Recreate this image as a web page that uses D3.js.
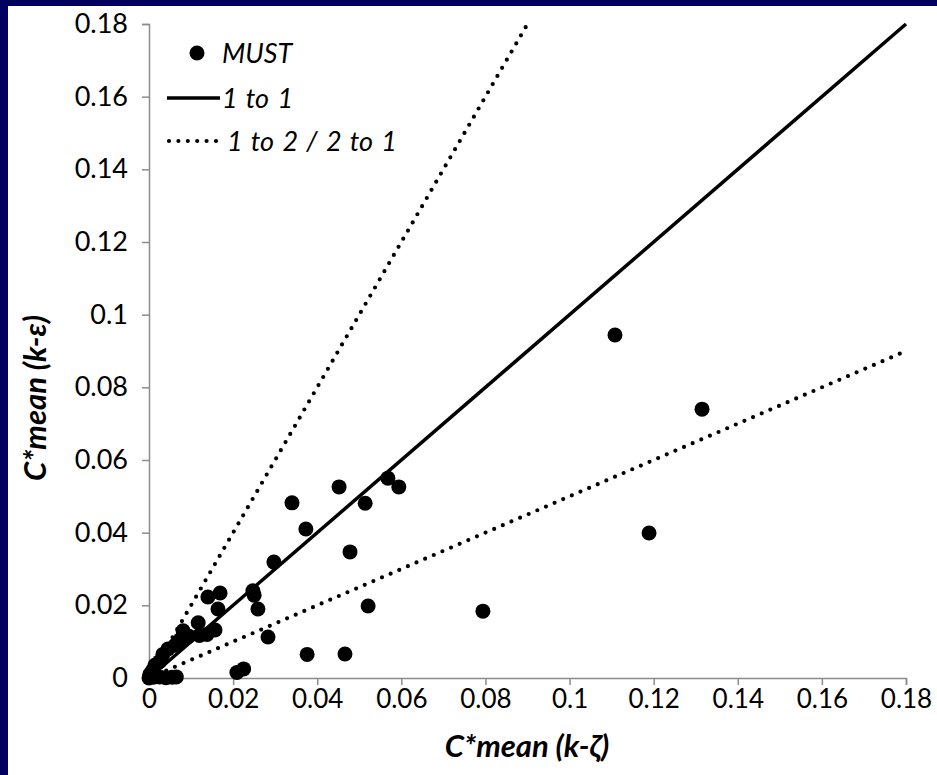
<!DOCTYPE html>
<html>
<head>
<meta charset="utf-8">
<script src="https://cdn.jsdelivr.net/npm/d3@7"></script>
<style>
  body { margin: 0; background: #fff; overflow: hidden; }
  svg { display: block; }
  text { font-family: Lato, "Open Sans", sans-serif; fill: #000; }
</style>
</head>
<body>
<div class="chart"></div>
<script>
// MUST points: C*mean k-zeta (x) vs C*mean k-epsilon (y)
var mustX = [0.1108, 0.1315, 0.1189, 0.0794,
    0.0452, 0.0568, 0.0594, 0.0514, 0.0373, 0.0478, 0.0521, 0.0376, 0.0466,
    0.0340, 0.0297, 0.0247, 0.0250, 0.0259, 0.0283,
    0.0169, 0.0140, 0.0164, 0.0117, 0.0081, 0.0157, 0.0138, 0.0120, 0.0095, 0.0074,
    0.0062, 0.0045, 0.0033, 0.0025, 0.0014, 0.0008, 0.0002, 0.0000,
    0.0010, 0.0025, 0.0040, 0.0055, 0.0065, 0.0209, 0.0225];
var mustY = [0.0944, 0.0740, 0.0399, 0.0184,
    0.0526, 0.0550, 0.0526, 0.0481, 0.0410, 0.0347, 0.0198, 0.0065, 0.0066,
    0.0482, 0.0319, 0.0240, 0.0228, 0.0190, 0.0113,
    0.0234, 0.0223, 0.0190, 0.0152, 0.0130, 0.0132, 0.0120, 0.0117, 0.0115, 0.0105,
    0.0090, 0.0080, 0.0065, 0.0045, 0.0035, 0.0020, 0.0010, 0.0000,
    0.0002, 0.0003, 0.0001, 0.0002, 0.0003, 0.0015, 0.0025];

var xTicks = [0, 0.02, 0.04, 0.06, 0.08, 0.1, 0.12, 0.14, 0.16, 0.18];
var yTicks = [0, 0.02, 0.04, 0.06, 0.08, 0.1, 0.12, 0.14, 0.16, 0.18];

// reference lines: 1 to 1, 2 to 1 and 1 to 2
var oneToOne = [[0, 0], [0.18, 0.18]];
var twoToOne = [[0, 0], [0.09, 0.18]];
var oneToTwo = [[0, 0], [0.18, 0.09]];

var legendNames = ["MUST", "1 to 1", "1 to 2 / 2 to 1"];

var W = 937, H = 775;
var svg = d3.select(".chart").append("svg")
    .attr("width", W)
    .attr("height", H);

// slide background: navy frame on top and left
svg.append("rect")
    .attr("width", W).attr("height", H)
    .style("fill", "#00005e");
svg.append("rect")
    .attr("x", 8).attr("y", 6)
    .attr("width", W).attr("height", H)
    .style("fill", "#fff");

var x = d3.scaleLinear().domain([0, 0.18]).range([149, 906]);
var y = d3.scaleLinear().domain([0, 0.18]).range([678, 24]);

function fmt(d) { return d === 0 ? "0" : String(+d.toFixed(2)); }

var gx = svg.append("g")
    .attr("transform", "translate(0," + y(0) + ")")
    .call(d3.axisBottom(x).tickValues(xTicks).tickFormat(fmt).tickSize(7).tickPadding(5));
var gy = svg.append("g")
    .attr("transform", "translate(" + x(0) + ",0)")
    .call(d3.axisLeft(y).tickValues(yTicks).tickFormat(fmt).tickSize(7).tickPadding(14));

[gx, gy].forEach(function (g) {
    g.select(".domain").style("stroke", "#8c8c8c").style("stroke-width", 1.5);
    g.selectAll(".tick line").style("stroke", "#8c8c8c").style("stroke-width", 1.5);
    g.selectAll(".tick text")
        .style("font-family", "Lato, sans-serif")
        .style("font-size", "26px")
        .style("fill", "#000");
});
gy.selectAll(".tick text").style("font-size", "27px");

var line = d3.line()
    .x(function (d) { return x(d[0]); })
    .y(function (d) { return y(d[1]); });

svg.append("path")
    .attr("d", line(oneToOne))
    .style("fill", "none")
    .style("stroke", "#000")
    .style("stroke-width", 3.5);

[twoToOne, oneToTwo].forEach(function (l) {
    svg.append("path")
        .attr("d", line(l))
        .style("fill", "none")
        .style("stroke", "#000")
        .style("stroke-width", 4.2)
        .style("stroke-linecap", "round")
        .style("stroke-dasharray", "0 9.4");
});

svg.selectAll("circle.must")
    .data(d3.range(mustX.length))
    .enter().append("circle")
    .attr("class", "must")
    .attr("cx", function (i) { return x(mustX[i]); })
    .attr("cy", function (i) { return y(mustY[i]); })
    .attr("r", 7.5)
    .style("fill", "#000");

// legend
var leg = svg.append("g");
leg.append("circle")
    .attr("cx", 197).attr("cy", 53).attr("r", 7.5)
    .style("fill", "#000");
leg.append("line")
    .attr("x1", 167).attr("x2", 220).attr("y1", 98).attr("y2", 98)
    .style("stroke", "#000").style("stroke-width", 3.5);
leg.append("line")
    .attr("x1", 169).attr("x2", 222).attr("y1", 141).attr("y2", 141)
    .style("stroke", "#000").style("stroke-width", 4.2)
    .style("stroke-linecap", "round").style("stroke-dasharray", "0 9.4");
[[222, 53], [222, 98], [227, 141]].forEach(function (p, i) {
    leg.append("text")
        .attr("x", p[0]).attr("y", p[1])
        .attr("dy", "0.36em")
        .style("font-size", "27px")
        .style("font-style", "italic")
        .style("word-spacing", "2px")
        .text(legendNames[i]);
});

// axis titles
svg.append("text")
    .attr("x", 527).attr("y", 757)
    .attr("text-anchor", "middle")
    .style("font-size", "31px")
    .style("font-weight", "bold")
    .style("font-style", "italic")
    .text("C*mean (k-ζ)");
svg.append("text")
    .attr("transform", "translate(46,398) rotate(-90)")
    .attr("text-anchor", "middle")
    .style("font-size", "31px")
    .style("font-weight", "bold")
    .style("font-style", "italic")
    .text("C*mean (k-ε)");
</script>
</body>
</html>
